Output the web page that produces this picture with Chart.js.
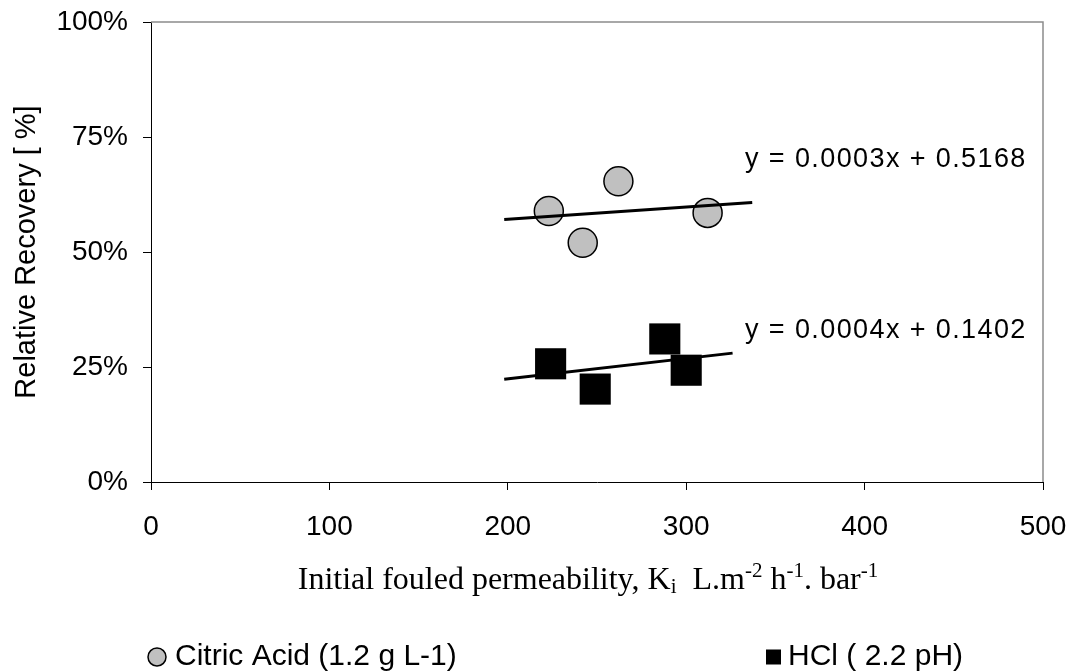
<!DOCTYPE html>
<html>
<head>
<meta charset="utf-8">
<script src="https://cdn.jsdelivr.net/npm/chart.js@4.4.1/dist/chart.umd.min.js"></script>
<style>
  html, body { margin: 0; padding: 0; background: #fff; }
  #wrap { width: 1073px; height: 671px; }
</style>
</head>
<body>
<div id="wrap"><canvas id="grafico" width="1073" height="671"></canvas></div>
<script>
// =========================
// DATOS
// =========================
const citricX = [223, 242, 262, 312];
const citricY = [0.589, 0.520, 0.654, 0.585];
const hclX = [224, 249, 288, 300];
const hclY = [0.257, 0.202, 0.311, 0.243];

// extension of the Excel-style trendlines (x from / to)
const citricTrendX = [198, 337];
const hclTrendX = [198, 326];

const seriesNames = ['Citric Acid (1.2 g L-1)', 'HCl ( 2.2 pH)'];
const eqLabels = ['y = 0.0003x + 0.5168', 'y = 0.0004x + 0.1402'];
// where the equation text sits, in data units [x, y]
const eqAnchors = [[333, 0.70], [333, 0.33]];

const xTicks = [0, 100, 200, 300, 400, 500];
const yTicks = [0, 0.25, 0.5, 0.75, 1];

// =========================
// TENDENCIA (minimos cuadrados)
// =========================
function tendencia(xs, ys, rango) {
    const n = xs.length;
    const mx = xs.reduce((a, b) => a + b, 0) / n;
    const my = ys.reduce((a, b) => a + b, 0) / n;
    let sxy = 0, sxx = 0;
    for (let i = 0; i < n; i++) {
        sxy += (xs[i] - mx) * (ys[i] - my);
        sxx += (xs[i] - mx) * (xs[i] - mx);
    }
    const m = sxy / sxx;
    const b = my - m * mx;
    return rango.map(x => ({ x: x, y: m * x + b }));
}

const pares = (xs, ys) => xs.map((x, i) => ({ x: x, y: ys[i] }));

// =========================
// PLUGIN: bordes, ecuaciones, titulo X, leyenda
// =========================
const extras = {
    id: 'extras',
    afterDraw(chart) {
        const ctx = chart.ctx;
        const a = chart.chartArea;
        const sx = chart.scales.x, sy = chart.scales.y;

        ctx.save();
        // top and right frame lines (grey)
        ctx.strokeStyle = '#8c8c8c';
        ctx.lineWidth = 1.5;
        ctx.beginPath();
        ctx.moveTo(a.left, a.top);
        ctx.lineTo(a.right, a.top);
        ctx.lineTo(a.right, a.bottom);
        ctx.stroke();

        // trendline equations
        ctx.fillStyle = '#000';
        ctx.font = '27px "Liberation Sans", Arial, sans-serif';
        ctx.letterSpacing = '1.4px';
        ctx.textAlign = 'left';
        ctx.textBaseline = 'middle';
        eqLabels.forEach((t, i) => {
            ctx.fillText(t, sx.getPixelForValue(eqAnchors[i][0]), sy.getPixelForValue(eqAnchors[i][1]));
        });
        ctx.letterSpacing = '0px';

        // x axis title with sub / superscripts
        const partes = [
            ['Initial fouled permeability, K', 0],
            ['i', 1],
            ['  L.m', 0],
            ['-2', 2],
            [' h', 0],
            ['-1', 2],
            ['. bar', 0],
            ['-1', 2]
        ];
        const fGrande = '32px "Liberation Serif", "Times New Roman", serif';
        const fChica = '21px "Liberation Serif", "Times New Roman", serif';
        let total = 0;
        partes.forEach(p => {
            ctx.font = p[1] ? fChica : fGrande;
            total += ctx.measureText(p[0]).width;
        });
        let x = (a.left + a.right) / 2 - total / 2 - 9;
        const base = 589;
        ctx.textBaseline = 'alphabetic';
        partes.forEach(p => {
            ctx.font = p[1] ? fChica : fGrande;
            const dy = p[1] === 1 ? 4 : (p[1] === 2 ? -12 : 0);
            ctx.fillText(p[0], x, base + dy);
            x += ctx.measureText(p[0]).width;
        });

        // legend
        const ly = 657;
        ctx.font = '30px "Liberation Sans", Arial, sans-serif';
        ctx.textBaseline = 'middle';
        ctx.lineWidth = 1.5;
        ctx.strokeStyle = '#000';
        ctx.fillStyle = '#c0c0c0';
        ctx.beginPath();
        ctx.arc(157, ly, 9, 0, Math.PI * 2);
        ctx.fill();
        ctx.stroke();
        ctx.fillStyle = '#000';
        ctx.fillText(seriesNames[0], 175, ly);
        ctx.fillRect(766, ly - 7.5, 15, 15);
        ctx.fillText(seriesNames[1], 788, ly);
        ctx.restore();
    }
};

// =========================
// GRAFICO
// =========================
const ctxGrafico = document.getElementById('grafico');

new Chart(ctxGrafico, {
    type: 'scatter',
    data: {
        datasets: [
            {
                label: seriesNames[0],
                data: pares(citricX, citricY),
                pointStyle: 'circle',
                pointRadius: 14.5,
                pointHoverRadius: 14.5,
                backgroundColor: '#c0c0c0',
                borderColor: '#000',
                borderWidth: 1.5,
                order: 1
            },
            {
                label: seriesNames[1],
                data: pares(hclX, hclY),
                pointStyle: 'rect',
                pointRadius: 22,
                pointHoverRadius: 22,
                backgroundColor: '#000',
                borderColor: '#000',
                borderWidth: 0,
                order: 1
            },
            {
                type: 'line',
                label: 'trend citric',
                data: tendencia(citricX, citricY, citricTrendX),
                borderColor: '#000',
                borderWidth: 3,
                pointRadius: 0,
                fill: false,
                order: 0
            },
            {
                type: 'line',
                label: 'trend hcl',
                data: tendencia(hclX, hclY, hclTrendX),
                borderColor: '#000',
                borderWidth: 3,
                pointRadius: 0,
                fill: false,
                order: 0
            }
        ]
    },
    options: {
        responsive: false,
        animation: false,
        layout: { padding: { left: 0, top: 22, right: 30, bottom: 0 } },
        plugins: {
            legend: { display: false },
            tooltip: { enabled: false }
        },
        scales: {
            x: {
                type: 'linear',
                min: xTicks[0],
                max: xTicks[xTicks.length - 1],
                afterBuildTicks: s => { s.ticks = xTicks.map(v => ({ value: v })); },
                afterFit: s => { s.height = 189; s.paddingLeft = 0; s.paddingRight = 0; },
                grid: { drawOnChartArea: false, drawTicks: true, tickLength: 8, tickColor: '#000', tickWidth: 1 },
                border: { color: '#000', width: 1 },
                ticks: {
                    color: '#000',
                    padding: 20,
                    font: { family: '"Liberation Sans", Arial, sans-serif', size: 28 }
                }
            },
            y: {
                min: yTicks[0],
                max: yTicks[yTicks.length - 1],
                afterBuildTicks: s => { s.ticks = yTicks.map(v => ({ value: v })); },
                afterFit: s => { s.width = 151; s.paddingTop = 0; s.paddingBottom = 0; },
                grid: { drawOnChartArea: false, drawTicks: true, tickLength: 8, tickColor: '#000', tickWidth: 1 },
                border: { color: '#000', width: 1 },
                ticks: {
                    color: '#000',
                    padding: 15,
                    font: { family: '"Liberation Sans", Arial, sans-serif', size: 28 },
                    callback: v => Math.round(v * 100) + '%'
                },
                title: {
                    display: true,
                    text: 'Relative Recovery [ %]',
                    color: '#000',
                    padding: { top: 10, bottom: 0 },
                    font: { family: '"Liberation Sans", Arial, sans-serif', size: 29 }
                }
            }
        }
    },
    plugins: [extras]
});
</script>
</body>
</html>
